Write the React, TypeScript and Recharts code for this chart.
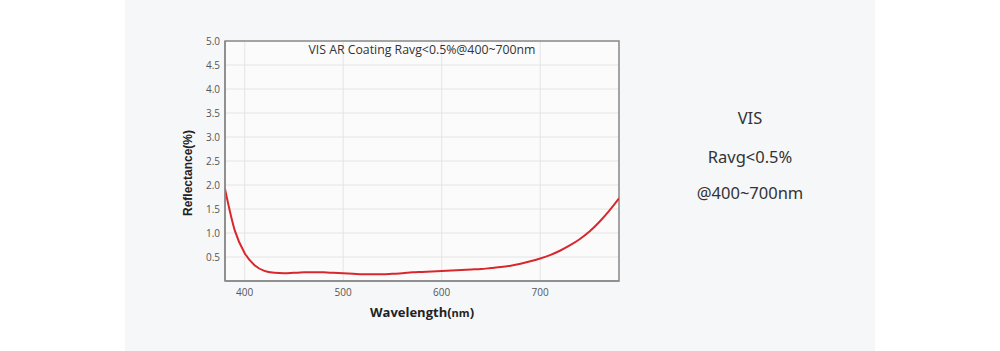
import { LineChart, Line, XAxis, YAxis, CartesianGrid, ReferenceArea } from 'recharts';

const wavelengths = [
  380, 390, 400, 410, 420, 430, 440, 450, 460, 470, 480, 490, 500, 510, 520, 530, 540, 550, 560, 570, 580,
  590, 600, 610, 620, 630, 640, 650, 660, 670, 680, 690, 700, 710, 720, 730, 740, 750, 760, 770, 780,
];
const reflectance = [
  1.92, 1.05, 0.58, 0.33, 0.21, 0.17, 0.16, 0.17, 0.18, 0.18, 0.18, 0.17, 0.16, 0.15, 0.14, 0.14, 0.14, 0.15, 0.16, 0.18, 0.19,
  0.2, 0.21, 0.22, 0.23, 0.24, 0.25, 0.27, 0.29, 0.32, 0.36, 0.41, 0.47, 0.54, 0.63, 0.74, 0.87, 1.03, 1.23, 1.46, 1.72,
];
const xTicks = [400, 500, 600, 700];
const yTicks = [0.5, 1.0, 1.5, 2.0, 2.5, 3.0, 3.5, 4.0, 4.5, 5.0];
const sideLines = ['VIS', 'Ravg<0.5%', '@400~700nm'];
const sideTops = [106, 145, 181];

const data = wavelengths.map((wl, i) => ({ wl, r: reflectance[i] }));

const tickStyle = { fontFamily: 'Open Sans', fontSize: 10, fill: '#555' };

export default function App() {
  return (
    <div style={{ position: 'absolute', left: 0, top: 0, width: 1000, height: 351, background: '#fff' }}>
      <div style={{ position: 'absolute', left: 125, top: 0, width: 750, height: 351, background: '#f6f7f9' }} />
      <div style={{ position: 'absolute', left: 0, top: 0 }}>
        <LineChart width={1000} height={351} data={data} margin={{ top: 41, right: 381, left: 185, bottom: 40 }}>
          <CartesianGrid stroke="#e4e4e6" fill="#fbfbfc" />
          <XAxis
            dataKey="wl"
            type="number"
            domain={[380, 780]}
            ticks={xTicks}
            allowDataOverflow
            tickLine={false}
            axisLine={{ stroke: '#8a8a8a', strokeWidth: 1.5 }}
            tick={tickStyle}
            height={30}
          />
          <YAxis
            type="number"
            domain={[0, 5]}
            ticks={yTicks}
            tickFormatter={(v: number) => v.toFixed(1)}
            tickLine={false}
            tickSize={3}
            axisLine={{ stroke: '#8a8a8a', strokeWidth: 1.5 }}
            tick={tickStyle}
            width={40}
          />
          <ReferenceArea x1={380} x2={780} y1={0} y2={5} fill="none" stroke="#8a8a8a" strokeWidth={1.5} />
          <Line
            type="monotone"
            dataKey="r"
            stroke="#d8282c"
            strokeWidth={2}
            dot={false}
            isAnimationActive={false}
          />
        </LineChart>
      </div>
      <div
        style={{
          position: 'absolute', left: 222, width: 400, top: 41, textAlign: 'center',
          fontFamily: 'Open Sans', fontSize: 12.3, color: '#333',
        }}
      >
        VIS AR Coating Ravg&lt;0.5%@400~700nm
      </div>
      <div
        style={{
          position: 'absolute', left: 138, top: 166, width: 100, textAlign: 'center',
          transform: 'rotate(-90deg)', fontFamily: 'Liberation Sans', fontWeight: 'bold', fontSize: 12, color: '#222',
        }}
      >
        Reflectance(%)
      </div>
      <div
        style={{
          position: 'absolute', left: 322, width: 200, top: 303, textAlign: 'center',
          fontFamily: 'Open Sans', fontWeight: 'bold', fontSize: 13, color: '#222',
        }}
      >
        Wavelength(<span style={{ fontSize: 11 }}>nm</span>)
      </div>
      {sideLines.map((t, i) => (
        <div
          key={t}
          style={{
            position: 'absolute', left: 650, width: 200, top: sideTops[i], textAlign: 'center',
            fontFamily: 'Noto Sans', fontSize: 16.5, color: '#333',
          }}
        >
          {t}
        </div>
      ))}
    </div>
  );
}
